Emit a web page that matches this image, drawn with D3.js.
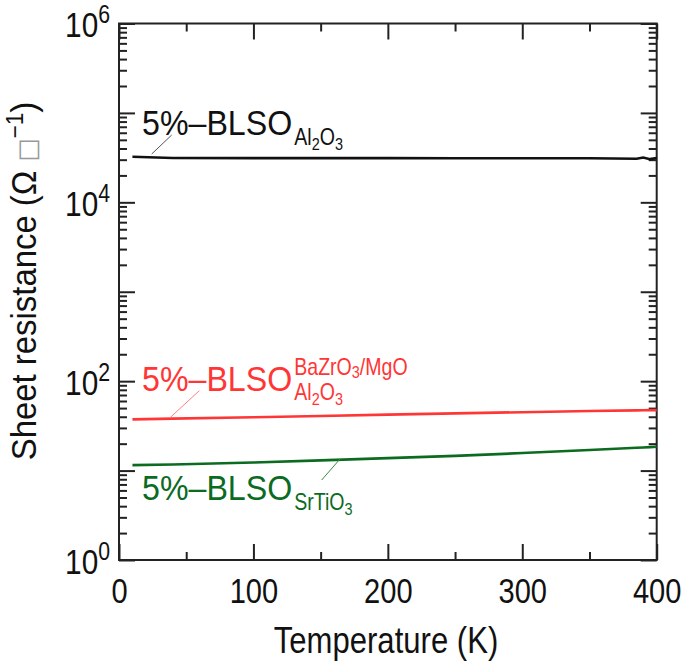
<!DOCTYPE html>
<html>
<head>
<meta charset="utf-8">
<script src="https://cdn.jsdelivr.net/npm/d3@7"></script>
<style>
  body { margin: 0; background: #fff; }
  svg text { font-family: 'Liberation Sans', Arial, sans-serif; }
</style>
</head>
<body>
<div id="chart"></div>
<script>
// temperatures (K)
const temps = [10, 40, 100, 150, 200, 250, 300, 350, 385, 390, 395, 400];
// sheet resistance (ohm / sq)
const rAl2O3 = [32300, 31300, 31200, 31200, 31200, 31150, 31150, 31100, 30700, 31700, 30400, 31300];
const rBaZrO3 = [37.4, 38.1, 39.5, 40.8, 42.2, 43.6, 45.0, 46.3, 47.1, 47.2, 47.4, 47.5];
const rSrTiO3 = [11.5, 11.7, 12.3, 13.0, 13.8, 14.6, 15.7, 17.0, 18.0, 18.15, 18.3, 18.5];

const xTicks = [0, 100, 200, 300, 400];
const xMinor = [50, 150, 250, 350];
const yExp = [0, 1, 2, 3, 4, 5, 6];
const yLabelExp = [0, 2, 4, 6];

const W = 685, H = 664;
const margin = { top: 23.5, right: 28.3, bottom: 104, left: 119 };

const svg = d3.select('#chart').append('svg')
  .attr('width', W)
  .attr('height', H);

const x = d3.scaleLinear().domain([0, 400]).range([margin.left, W - margin.right]);
const y = d3.scaleLog().domain([1, 1e6]).range([H - margin.bottom, margin.top]);

const yMajor = yExp.map(e => Math.pow(10, e));
const yMinor = [];
for (let e = 0; e < 6; e++) {
  for (let k = 2; k <= 9; k++) yMinor.push(k * Math.pow(10, e));
}

const axisColor = '#222';
// no narrow font installed, so squeeze the glyphs horizontally
const narrow = (px, py, sx) => `translate(${px},${py}) scale(${sx},1)`;

function styleAxis(g) {
  g.select('.domain').remove();
  g.selectAll('.tick line').attr('stroke', axisColor).attr('stroke-width', 2);
}

// minor ticks
svg.append('g').attr('transform', `translate(0,${y(1)})`)
  .call(d3.axisBottom(x).tickValues(xMinor).tickSize(-8).tickFormat(''))
  .call(styleAxis);
svg.append('g').attr('transform', `translate(0,${y(1e6)})`)
  .call(d3.axisTop(x).tickValues(xMinor).tickSize(-8).tickFormat(''))
  .call(styleAxis);
svg.append('g').attr('transform', `translate(${x(0)},0)`)
  .call(d3.axisLeft(y).tickValues(yMinor).tickSize(-8).tickFormat(''))
  .call(styleAxis);
svg.append('g').attr('transform', `translate(${x(400)},0)`)
  .call(d3.axisRight(y).tickValues(yMinor).tickSize(-8).tickFormat(''))
  .call(styleAxis);

// major ticks
const xAxisG = svg.append('g').attr('transform', `translate(0,${y(1)})`)
  .call(d3.axisBottom(x).tickValues(xTicks).tickSize(-16).tickFormat(d3.format('d')))
  .call(styleAxis);
xAxisG.selectAll('.tick text')
  .attr('x', 0).attr('y', 0).attr('dy', 0)
  .attr('transform', narrow(0, 43, 0.83))
  .attr('fill', '#111')
  .style('font-size', '35px');

svg.append('g').attr('transform', `translate(0,${y(1e6)})`)
  .call(d3.axisTop(x).tickValues(xTicks).tickSize(-16).tickFormat(''))
  .call(styleAxis);

const yAxisG = svg.append('g').attr('transform', `translate(${x(0)},0)`)
  .call(d3.axisLeft(y).tickValues(yMajor).tickSize(-16).tickFormat(''))
  .call(styleAxis);
yAxisG.selectAll('.tick')
  .filter(d => yLabelExp.includes(Math.round(Math.log10(d))))
  .select('text')
  .attr('x', 0).attr('dy', 0)
  .attr('transform', narrow(-9, 13, 0.85))
  .attr('fill', '#111')
  .style('font-size', '35px')
  .each(function (d) {
    const t = d3.select(this);
    t.append('tspan').text('10');
    t.append('tspan').attr('dy', -14).style('font-size', '25px').text(Math.round(Math.log10(d)));
  });

svg.append('g').attr('transform', `translate(${x(400)},0)`)
  .call(d3.axisRight(y).tickValues(yMajor).tickSize(-16).tickFormat(''))
  .call(styleAxis);

// frame
svg.append('rect')
  .attr('x', x(0)).attr('y', y(1e6))
  .attr('width', x(400) - x(0)).attr('height', y(1) - y(1e6))
  .attr('fill', 'none').attr('stroke', axisColor).attr('stroke-width', 2);

// curves
const series = [
  { values: rAl2O3, color: '#111111' },
  { values: rBaZrO3, color: '#ff3636' },
  { values: rSrTiO3, color: '#0b6b1f' }
];
const line = d3.line().x(d => x(d[0])).y(d => y(d[1]));
series.forEach(s => {
  svg.append('path')
    .datum(temps.map((t, i) => [t, s.values[i]]))
    .attr('fill', 'none')
    .attr('stroke', s.color)
    .attr('stroke-width', 2.6)
    .attr('d', line);
});

// labels
function label(px, py, color, sub, sup) {
  const sx = 0.92;
  const main = svg.append('text')
    .attr('transform', narrow(px, py, sx))
    .attr('fill', color)
    .style('font-size', '35px')
    .text('5%\u2013BLSO');
  const end = px + sx * main.node().getComputedTextLength() + 2;
  function chem(str, bx, by, drop) {
    const t = svg.append('text')
      .attr('transform', narrow(bx, by, 0.85))
      .attr('fill', color).style('font-size', '23px');
    // digits go lower and smaller
    const parts = str.match(/[0-9]+|[^0-9]+/g);
    parts.forEach((p, i) => {
      if (/^[0-9]+$/.test(p)) {
        t.append('tspan').attr('dy', drop).style('font-size', '17px').text(p);
      } else {
        t.append('tspan').attr('dy', i > 0 ? -drop : 0).text(p);
      }
    });
  }
  if (sup) chem(sup, end, py - 16, 3);
  if (sub) chem(sub, end, py + (sup ? 9 : 10), 5);
}
label(142, 135, '#111', 'Al2O3');
label(142, 390.5, '#ff3636', 'Al2O3', 'BaZrO3/MgO');
label(142, 500, '#0b6b1f', 'SrTiO3');

// leader lines
svg.append('line').attr('x1', 171.7).attr('y1', 135).attr('x2', 151.7).attr('y2', 154)
  .attr('stroke', '#555').attr('stroke-width', 1);
svg.append('line').attr('x1', 199.3).attr('y1', 390.7).attr('x2', 170).attr('y2', 417.7)
  .attr('stroke', '#ff8080').attr('stroke-width', 1);
svg.append('line').attr('x1', 321.7).attr('y1', 480).attr('x2', 340).attr('y2', 459)
  .attr('stroke', '#3a8a45').attr('stroke-width', 1);

// axis titles
svg.append('text')
  .attr('transform', narrow(386, 652.5, 0.84))
  .attr('text-anchor', 'middle')
  .attr('fill', '#111')
  .style('font-size', '37px')
  .text('Temperature (K)');

const yTitle = svg.append('text')
  .attr('transform', 'translate(36,281) rotate(-90) scale(0.94,1)')
  .attr('text-anchor', 'middle')
  .attr('fill', '#111')
  .style('font-size', '35px');
yTitle.append('tspan').text('Sheet resistance (\u03A9 ');
yTitle.append('tspan').attr('fill', '#999').style('font-family', 'DejaVu Sans').style('font-size', '26px').text('\u25A1');
yTitle.append('tspan').attr('dy', -13).style('font-size', '24px').text('\u22121');
yTitle.append('tspan').attr('dy', 13).text(')');
</script>
</body>
</html>
